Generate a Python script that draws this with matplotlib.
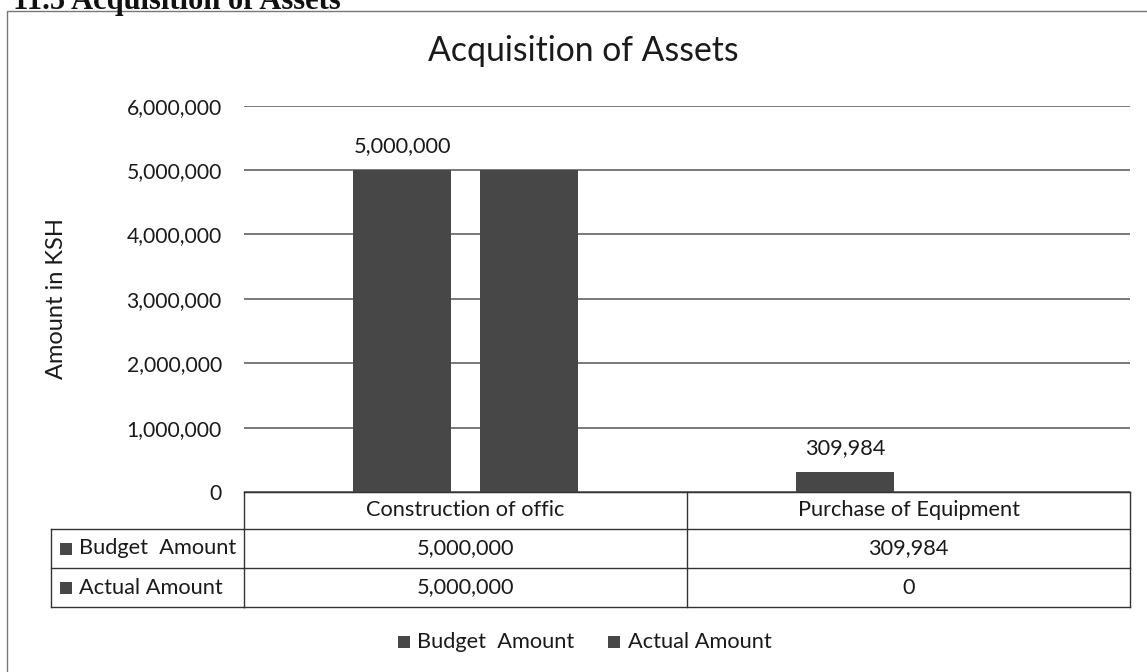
import matplotlib
matplotlib.use("Agg")
import matplotlib.pyplot as plt
from matplotlib.lines import Line2D
from matplotlib.patches import Rectangle
from matplotlib.transforms import blended_transform_factory

# data
categories = ["Construction of offic", "Purchase of Equipment"]
series_names = ["Budget  Amount", "Actual Amount"]
budget = [5000000, 309984]
actual = [5000000, 0]
yticks = [0, 1000000, 2000000, 3000000, 4000000, 5000000, 6000000]

W, H = 1147, 672
plt.rcParams['font.family'] = ['Lato', 'DejaVu Sans']
bar_color = '#474747'
grid_color = '#555555'
txt = '#1a1a1a'
body_fs = 15.7

fig = plt.figure(figsize=(W / 100, H / 100), dpi=100)


def fx(x):
    return x / W


def fy(y):
    return 1 - y / H


# axes placed by pixel box of the plot area
left, right, top, bottom = 244, 1130, 105.7, 492
ax = fig.add_axes([fx(left), fy(bottom), (right - left) / W, (bottom - top) / H])

xs = list(range(len(categories)))
width = 0.221
off = 0.143
bars_b = ax.bar([x - off for x in xs], budget, width, color=bar_color, label=series_names[0], zorder=3)
bars_a = ax.bar([x + off for x in xs], actual, width, color=bar_color, label=series_names[1], zorder=3)
ax.bar_label(bars_b, labels=[f"{v:,}" for v in budget], padding=10, fontsize=body_fs, color=txt)

ax.set_xlim(-0.5, len(categories) - 0.5)
ax.set_ylim(0, 6000000)
ax.set_yticks(yticks)
ax.set_yticklabels([f"{v:,}" for v in yticks], fontsize=15.2, color=txt)
ax.tick_params(axis='y', length=0, pad=16)
ax.set_xticks([])
ax.yaxis.grid(True, color=grid_color, lw=1.1)
ax.set_axisbelow(True)
for s in ['top', 'right', 'left']:
    ax.spines[s].set_visible(False)
ax.spines['bottom'].set_color('#333333')
ax.set_ylabel("Amount in KSH", fontsize=17, color=txt)
ax.yaxis.set_label_coords((67 - left) / (right - left), 0.5)

fig.text(fx(583), fy(51), "Acquisition of Assets", ha='center', va='center', fontsize=24.3, color=txt)

# data table under the plot
tr = blended_transform_factory(ax.transData, fig.transFigure)
rows_y = [492, 529, 568, 607]
line_kw = dict(color='#333333', lw=1.0)
for y in rows_y:
    fig.add_artist(Line2D([-0.5, len(categories) - 0.5], [fy(y), fy(y)], transform=tr, **line_kw))
for y in rows_y[1:]:
    fig.add_artist(Line2D([fx(51), fx(left)], [fy(y), fy(y)], transform=fig.transFigure, **line_kw))
fig.add_artist(Line2D([fx(51), fx(51)], [fy(rows_y[1]), fy(rows_y[3])], transform=fig.transFigure, **line_kw))
for b in [x - 0.5 for x in xs] + [len(categories) - 0.5]:
    fig.add_artist(Line2D([b, b], [fy(rows_y[0]), fy(rows_y[3])], transform=tr, **line_kw))

for i, c in enumerate(categories):
    fig.text(i, fy((rows_y[0] + rows_y[1]) / 2), c, transform=tr, ha='center', va='center', fontsize=body_fs, color=txt)
    fig.text(i, fy((rows_y[1] + rows_y[2]) / 2), f"{budget[i]:,}", transform=tr, ha='center', va='center', fontsize=body_fs, color=txt)
    fig.text(i, fy((rows_y[2] + rows_y[3]) / 2), f"{actual[i]:,}", transform=tr, ha='center', va='center', fontsize=body_fs, color=txt)

for j, name in enumerate(series_names):
    yc = (rows_y[j + 1] + rows_y[j + 2]) / 2
    fig.add_artist(Rectangle((fx(60), fy(yc + 6)), 12 / W, 12 / H, transform=fig.transFigure,
                             facecolor=bar_color, edgecolor='none'))
    fig.text(fx(79), fy(yc), name, ha='left', va='center', fontsize=body_fs, color=txt)

# legend
leg_y = 642
for mx, tx, name in [(398, 417, series_names[0]), (608, 628, series_names[1])]:
    fig.add_artist(Rectangle((fx(mx), fy(leg_y + 6)), 12 / W, 12 / H, transform=fig.transFigure,
                             facecolor=bar_color, edgecolor='none'))
    fig.text(fx(tx), fy(leg_y), name, ha='left', va='center', fontsize=body_fs, color=txt)

# chart frame and clipped section heading from the scanned page
fig.add_artist(Rectangle((fx(7), fy(H + 10)), (W + 10) / W, (H + 10 - 11) / H, transform=fig.transFigure,
                         facecolor='none', edgecolor='#777777', lw=1.0))
fig.text(fx(13), fy(9), "11.5 Acquisition of Assets", ha='left', va='baseline', fontsize=22,
         fontweight='bold', family='Liberation Serif', color='#111111')

fig.savefig("out.png", dpi=100)
